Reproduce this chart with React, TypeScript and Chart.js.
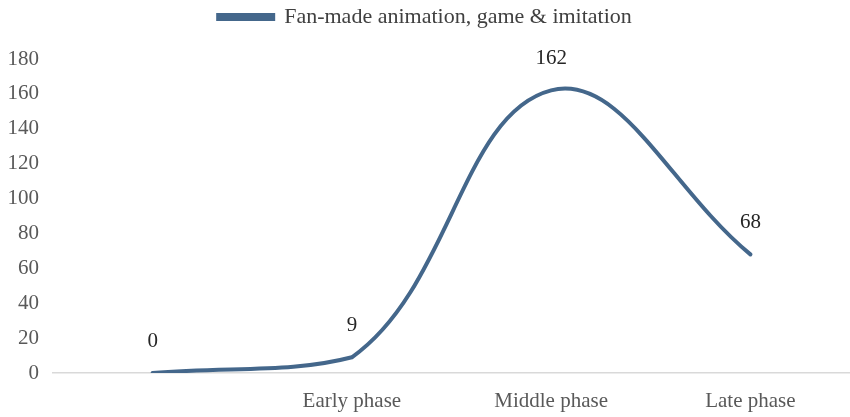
import React, { useEffect, useRef } from "react";
import { Chart, registerables } from "chart.js";

Chart.register(...registerables);

const categories = ["", "Early phase", "Middle phase", "Late phase"];
const seriesName = "Fan-made animation, game & imitation";
const seriesValues = [0, 9, 162, 68];
const yTicks = [0, 20, 40, 60, 80, 100, 120, 140, 160, 180];

const FONT = "'Liberation Serif', 'Times New Roman', serif";
const LINE_COLOR = "#44678b";

const valueLabels = {
  id: "valueLabels",
  afterDatasetsDraw(chart: any) {
    const ctx = chart.ctx;
    const meta = chart.getDatasetMeta(0);
    ctx.save();
    ctx.font = `21px ${FONT}`;
    ctx.fillStyle = "#262626";
    ctx.textAlign = "center";
    ctx.textBaseline = "middle";
    meta.data.forEach((pt: any, i: number) => {
      ctx.fillText(String(seriesValues[i]), pt.x, pt.y - 32);
    });
    ctx.restore();
  },
};

const legendSpacer = {
  id: "legendSpacer",
  beforeInit(chart: any) {
    const legend = chart.legend;
    if (!legend) return;
    const origFit = legend.fit;
    legend.fit = function () {
      origFit.call(this);
      this.height += 21;
    };
  },
};

export default function App() {
  const ref = useRef<HTMLCanvasElement | null>(null);
  useEffect(() => {
    if (!ref.current) return;
    const chart = new Chart(ref.current, {
      type: "line",
      data: {
        labels: categories,
        datasets: [
          {
            label: seriesName,
            data: seriesValues,
            borderColor: LINE_COLOR,
            backgroundColor: LINE_COLOR,
            borderWidth: 4,
            pointRadius: 0,
            tension: 0.4,
            fill: false,
            borderCapStyle: "round",
          },
        ],
      },
      options: {
        animation: false,
        responsive: true,
        maintainAspectRatio: false,
        layout: { padding: { top: 0, right: 0, bottom: 0, left: 0 } },
        plugins: {
          tooltip: { enabled: false },
          legend: {
            position: "top",
            labels: {
              boxWidth: 55,
              boxHeight: 4,
              padding: 6,
              color: "#404040",
              font: { family: FONT, size: 22 },
            },
          },
        },
        scales: {
          x: {
            type: "category",
            offset: true,
            grid: { display: false, drawTicks: false },
            border: { display: true, color: "#d9d9d9", width: 1.5 },
            ticks: {
              color: "#595959",
              padding: 16,
              font: { family: FONT, size: 21 },
              maxRotation: 0,
              autoSkip: false,
            },
            afterFit: (scale: any) => {
              scale.height = 44;
            },
          },
          y: {
            min: 0,
            max: 180,
            afterBuildTicks: (scale: any) => {
              scale.ticks = yTicks.map((v) => ({ value: v }));
            },
            grid: { display: false, drawTicks: false },
            border: { display: false },
            ticks: {
              color: "#595959",
              padding: 14,
              font: { family: FONT, size: 21 },
            },
            afterFit: (scale: any) => {
              scale.width = 53;
            },
          },
        },
      },
      plugins: [legendSpacer, valueLabels],
    });
    return () => chart.destroy();
  }, []);
  return (
    <div style={{ position: "absolute", left: 0, top: 0, width: 850, height: 417, background: "#fff" }}>
      <canvas ref={ref} />
    </div>
  );
}
